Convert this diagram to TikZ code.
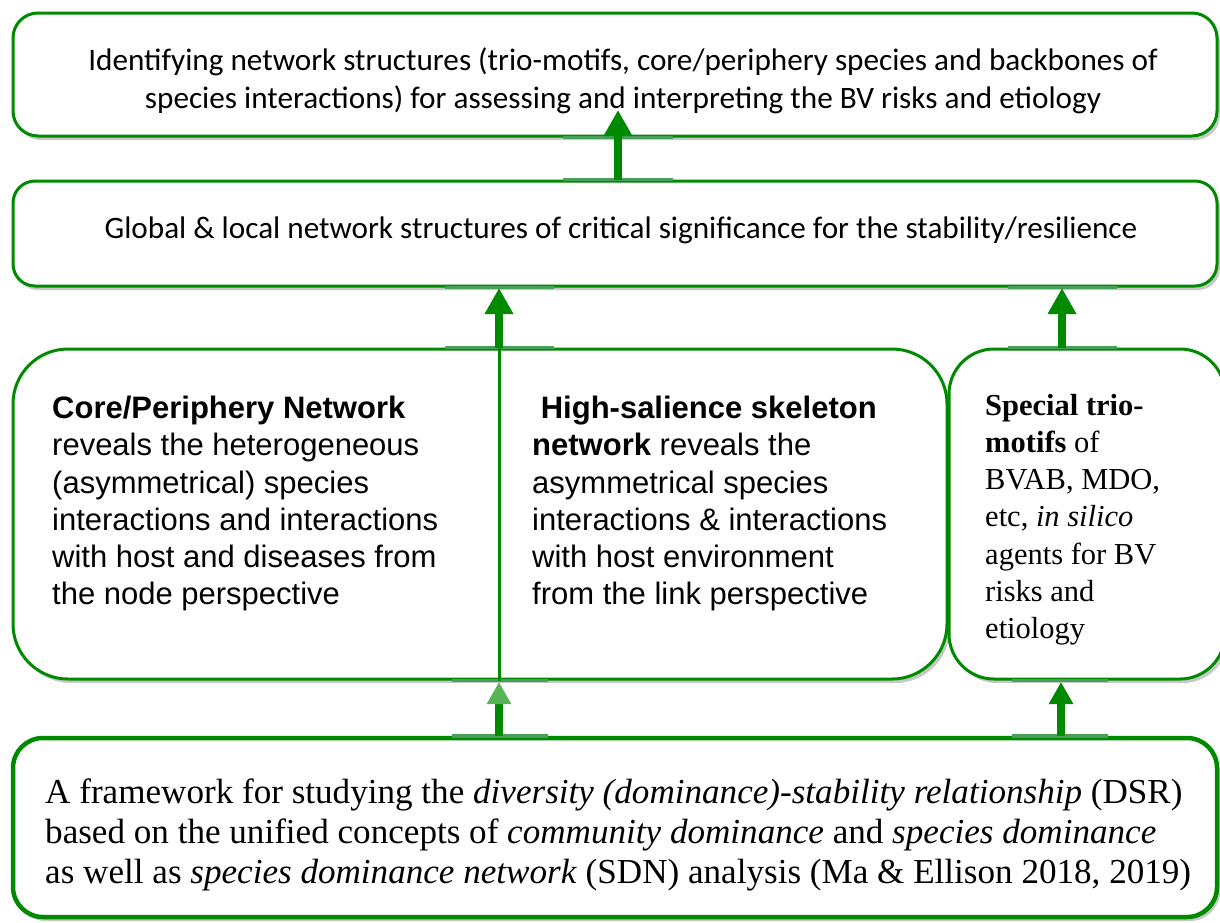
\documentclass[tikz,border=0pt]{standalone}
\usepackage{fontspec}
\setmainfont{Liberation Serif}
\newfontfamily\calfont{Carlito}
\newfontfamily\arialfont{Liberation Sans}
\newfontfamily\timesfont{Liberation Serif}
\usetikzlibrary{arrows.meta,shadows}
\definecolor{leaf}{RGB}{0,138,0}
\definecolor{paleleaf}{RGB}{70,160,90}

\begin{document}
\begin{tikzpicture}[x=1pt,y=-1pt,
  panel/.style={draw=leaf, line width=3pt, fill=white, inner sep=0pt,
    drop shadow={shadow xshift=3pt, shadow yshift=-4pt, fill=black, opacity=0.22}},
  uparrow/.style={draw=leaf, line width=8pt, -{Triangle[length=26pt,width=27pt]}},
  lowarrow/.style={draw=leaf, line width=8pt, -{Triangle[length=22pt,width=23pt]}},
  seam/.style={draw=paleleaf, line width=3pt},
  topfont/.style={font=\calfont\fontsize{31.2}{38}\selectfont, align=center, inner sep=0pt},
  sansfont/.style={font=\arialfont\fontsize{31}{37.2}\selectfont, align=left, anchor=north west, inner sep=0pt},
  romfont/.style={font=\timesfont\fontsize{30.5}{37.2}\selectfont, align=left, anchor=north west, inner sep=0pt},
  basefont/.style={font=\timesfont\fontsize{35.1}{40}\selectfont, align=left, anchor=west, inner sep=0pt}]
\useasboundingbox (0,0) rectangle (1220,922);
\fill[white] (0,0) rectangle (1220,922);

% stacked panels
\node[panel, rounded corners=25pt, minimum width=1204pt, minimum height=123pt] (goal) at (615,74.5) {};
\node[panel, rounded corners=22pt, minimum width=1204pt, minimum height=105pt] (global) at (615,233.5) {};
\node[panel, rounded corners=55pt, minimum width=934pt, minimum height=330pt] (nets) at (480,514) {};
\node[panel, rounded corners=45pt, minimum width=276pt, minimum height=330pt] (trio) at (1087,514) {};
\node[panel, line width=4.5pt, rounded corners=30pt, minimum width=1204pt, minimum height=179pt] (dsr) at (615,827.5) {};

% paler stretches of the panel borders around the arrows
\draw[seam] (563,0 |- goal.south) -- (673,0 |- goal.south);
\draw[seam] (563,0 |- global.north) -- (673,0 |- global.north);
\draw[seam] (445,0 |- global.south) -- (554,0 |- global.south);
\draw[seam] (445,0 |- nets.north) -- (554,0 |- nets.north);
\draw[seam] (1008,0 |- global.south) -- (1117,0 |- global.south);
\draw[seam] (1008,0 |- trio.north) -- (1117,0 |- trio.north);
\draw[seam] (452,0 |- nets.south) -- (548,0 |- nets.south);
\draw[seam, line width=4.5pt] (452,0 |- dsr.north) -- (548,0 |- dsr.north);
\draw[seam] (1012,0 |- trio.south) -- (1108,0 |- trio.south);
\draw[seam, line width=4.5pt] (1012,0 |- dsr.north) -- (1108,0 |- dsr.north);

% panel texts
\node[topfont] (goaltext) at (623,81)
  {Identifying network structures (trio-motifs, core/periphery species and backbones of\\
   species interactions) for assessing and interpreting the BV risks and etiology};

\node[topfont] (globaltext) at (621,230)
  {Global \& local network structures of critical significance for the stability/resilience};

\node[sansfont] (cp) at (52,396)
  {\textbf{Core/Periphery Network}\\
   reveals the heterogeneous\\
   (asymmetrical) species\\
   interactions and interactions\\
   with host and diseases from\\
   the node perspective};

\node[sansfont] (hs) at (532,396)
  {\ \textbf{High-salience skeleton}\\
   \textbf{network} reveals the\\
   asymmetrical species\\
   interactions \& interactions\\
   with host environment\\
   from the link perspective};

\node[romfont] (tm) at (985,394)
  {\textbf{Special trio-}\\
   \textbf{motifs} of\\
   BVAB, MDO,\\
   etc, \textit{in silico}\\
   agents for BV\\
   risks and\\
   etiology};

\node[basefont] (dsrtext) at (45,835)
  {A framework for studying the \textit{diversity (dominance)-stability relationship} (DSR)\\
   based on the unified concepts of \textit{community dominance} and \textit{species dominance}\\
   as well as \textit{species dominance network} (SDN) analysis (Ma \& Ellison 2018, 2019)};

% connectors
\draw[uparrow] (618,0 |- global.north) -- (618,0 |- goal.south) -- (618,110);

\draw[uparrow] (499,0 |- nets.north) -- (499,288);
\draw[leaf, line width=3pt] (499,0 |- nets.south) -- (499,0 |- nets.north);
\draw[lowarrow, -{Triangle[length=22pt,width=23pt,color=leaf!65!white]}] (499,0 |- dsr.north) -- (499,682);

\draw[uparrow] (1062,0 |- trio.north) -- (1062,288);
\draw[lowarrow] (1061,0 |- dsr.north) -- (1061,682);
\end{tikzpicture}
\end{document}
